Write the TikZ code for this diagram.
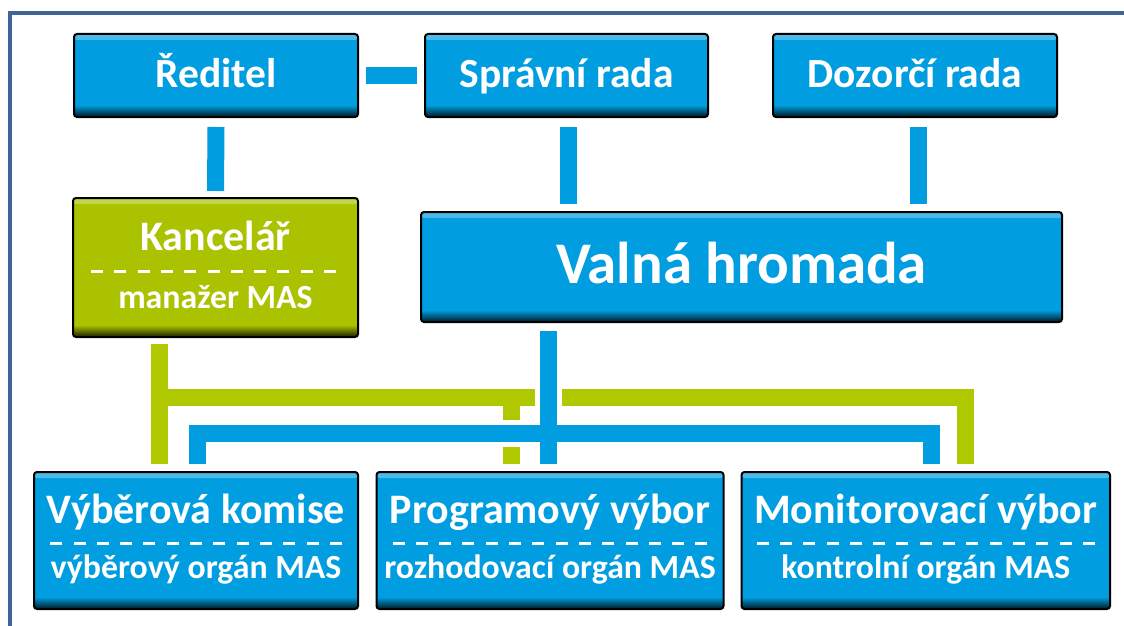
\documentclass[tikz,border=0pt]{standalone}
\usepackage{fontspec}
\setmainfont{Carlito}
\usetikzlibrary{calc}
\definecolor{boxblue}{RGB}{0,158,224}
\definecolor{boxgreen}{RGB}{170,194,0}
\definecolor{linegreen}{RGB}{176,200,0}
\definecolor{framecol}{RGB}{65,100,152}
\begin{document}
\begin{tikzpicture}[x=1pt,y=-1pt,
  box/.style={draw=black, line width=2pt, rounded corners=3pt, fill=#1, inner sep=0pt, text=white,
    path picture={
      \shade[top color=#1!70!white, bottom color=#1] (path picture bounding box.north west) rectangle ([yshift=-6pt]path picture bounding box.north east);
      \shade[top color=#1, bottom color=black!85!#1] ([yshift=12pt]path picture bounding box.south west) rectangle (path picture bounding box.south east);
    }},
  topbox/.style={box=boxblue, minimum width=284pt, minimum height=83pt, text height=28pt, text depth=5pt, font=\fontsize{41.5}{48}\selectfont\bfseries},
  ttl/.style={anchor=base, inner sep=0pt, text=white, font=\fontsize{42}{48}\selectfont\bfseries},
  sub/.style={anchor=base, inner sep=0pt, text=white, font=\fontsize{33.8}{40}\selectfont\bfseries},
  dashline/.style={draw=white, line width=3pt, dash pattern=on 12pt off 11.3pt},
  bline/.style={draw=boxblue, line width=17pt},
  gline/.style={draw=linegreen, line width=17pt, line join=miter},
  casing/.style={draw=white, line width=27pt},
]
\useasboundingbox (0,0) rectangle (1124,626);
\fill[white] (0,0) rectangle (1124,626);
\draw[framecol, line width=4.5pt, line join=miter] (10,640) -- (10,13) -- (1140,13);

% top row
\node[topbox] (red) at (216,75.5) {Ředitel};
\node[topbox, minimum width=283pt] (spr) at (566.5,75.5) {Správní rada};
\node[topbox] (doz) at (915,75.5) {Dozorčí rada};

% middle row
\node[box=boxgreen, minimum width=285pt, minimum height=139pt] (kanc) at (215.5,267.5) {};
\node[box=boxblue, minimum width=641pt, minimum height=110pt, text height=41pt, text depth=9pt, font=\fontsize{59}{66}\selectfont\bfseries] (valna) at (741.5,267) {Valná hromada};

% bottom row
\node[box=boxblue, minimum width=324pt, minimum height=137pt] (vyb) at (196,540.5) {};
\node[box=boxblue, minimum width=347pt, minimum height=137pt] (prog) at (550,540.5) {};
\node[box=boxblue, minimum width=368.5pt, minimum height=137pt] (mon) at (925.75,540.5) {};

% texts of two-part boxes
\node[ttl] (kanct) at (215.5,250) {Kancelář};
\node[sub] (kancs) at (215.5,308) {manažer MAS};
\draw[dashline] (91,271) -- ++(245,0);

\node[ttl] (vybt) at (196,523) {Výběrová komise};
\node[sub] (vybs) at (196,578) {výběrový orgán MAS};
\draw[dashline] (50.2,543) -- ++(291.6,0);

\node[ttl] (progt) at (550,523) {Programový výbor};
\node[sub] (progs) at (550,578) {rozhodovací orgán MAS};
\draw[dashline] (392.5,543) -- ++(314.9,0);

\node[ttl] (mont) at (925.75,523) {Monitorovací výbor};
\node[sub] (mons) at (925.75,578) {kontrolní orgán MAS};
\draw[dashline] (756.6,543) -- ++(338.2,0);

% upper connectors
\draw[bline] ($(red.east)+(7,0)$) -- ($(spr.west)+(-7,0)$);
\draw[bline] ($(red.south)+(0,9)$) -- ($(kanc.north)+(0,-6)$);
\draw[bline] ($(spr.south)+(2,9)$) -- ($(spr.south |- valna.north)+(2,-7)$);
\draw[bline] ($(doz.south)+(3.5,9)$) -- ($(doz.south |- valna.north)+(3.5,-7)$);

% green connectors
\coordinate (gl) at ($(kanc.south)+(-56.5,59.5)$);
\draw[gline] ($(kanc.south)+(-56.5,6)$) -- ($(kanc.south |- vyb.north)+(-56.5,-7)$);
\draw[gline] (gl) -| ($(mon.north)+(39.75,-7)$);
\draw[gline] ($(prog.north)+(-38.5,-75.5)$) -- ($(prog.north)+(-38.5,-7)$);

% white casings for crossings
\draw[casing] ($(valna.south -| prog.north)+(-1.5,8)$) -- ($(prog.north)+(-1.5,-7)$);
\draw[casing] ($(vyb.north)+(1,-7)$) -- ++(0,-31) -| ($(mon.north)+(5.75,-7)$);

% blue lower connectors
\draw[bline] ($(valna.south -| prog.north)+(-1.5,8)$) -- ($(prog.north)+(-1.5,-7)$);
\draw[bline, line join=miter] ($(vyb.north)+(1,-7)$) -- ++(0,-31) -| ($(mon.north)+(5.75,-7)$);
\end{tikzpicture}
\end{document}
